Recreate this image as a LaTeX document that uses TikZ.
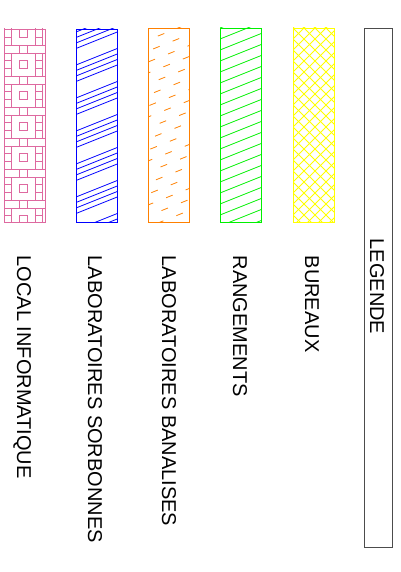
\documentclass[tikz,border=0pt]{standalone}
\usepackage{fontspec}
\setmainfont{Liberation Sans}
\definecolor{cpink}{RGB}{222,105,160}
\definecolor{cblue}{RGB}{0,0,255}
\definecolor{corange}{RGB}{255,128,0}
\definecolor{cgreen}{RGB}{0,240,0}
\definecolor{cyellow}{RGB}{255,255,0}
\begin{document}
\begin{tikzpicture}[x=1pt,y=-1pt,
  lbl/.style={rotate=-90, anchor=base west, inner sep=0pt, font=\fontsize{20}{24}\selectfont},
  pat/.style={line width=0.8pt},
  frame/.style={line width=0.9pt}]
\useasboundingbox (0,0) rectangle (400,572);

% LOCAL INFORMATIQUE pattern
\begin{scope}
\clip (4,29) rectangle (45,222);
\foreach \j in {-1,...,6}{
  \pgfmathsetmacro\yo{45+31*\j}
  \draw[cpink,pat] (0,\yo) -- (50,\yo) (0,\yo+8) -- (50,\yo+8);
  \foreach \c in {-7.5,23.5,54.5}{
    \draw[cpink,pat] (\c-4,\yo) -- (\c-4,\yo+8) (\c+4,\yo) -- (\c+4,\yo+8)
      (\c-12,\yo+8) -- (\c-12,\yo+31) (\c+12,\yo+8) -- (\c+12,\yo+31)
      (\c-4,\yo+15.5) rectangle (\c+4,\yo+23.5)
      (\c+12,\yo+15.5) -- (\c+19,\yo+15.5) (\c+12,\yo+23.5) -- (\c+19,\yo+23.5);
  }
}
\end{scope}
\draw[cpink,frame] (4,29) rectangle (45,222);

% LABORATOIRES SORBONNES pattern
\begin{scope}
\clip (76,29) rectangle (117,222);
\foreach \k in {-1,...,6}{
  \foreach \o in {0,5.5,11,16.5}{
    \draw[cblue,pat] (70,{32+33*\k+\o+2.4}) -- ++(60,-24);
  }
}
\end{scope}
\draw[cblue,frame] (76,29) rectangle (117,222);

% LABORATOIRES BANALISES pattern
\begin{scope}
\clip (148,28) rectangle (189,222);
\foreach \k in {-2,...,18}{
  \pgfmathsetmacro\ph{mod(5*(\k+5),21)}
  \draw[corange,pat,dash pattern=on 7pt off 14pt,dash phase=\ph pt] (142,{40+11*\k+2.4}) -- ++(60,-24);
}
\end{scope}
\draw[corange,frame] (148,28) rectangle (189,222);

% RANGEMENTS pattern
\begin{scope}
\clip (220,28) rectangle (261,222);
\foreach \k in {-2,...,18}{
  \draw[cgreen,pat] (214,{39+11*\k+2.4}) -- ++(60,-24);
}
\end{scope}
\draw[cgreen,frame] (220,28) rectangle (261,222);

% BUREAUX pattern
\begin{scope}
\clip (293,28) rectangle (334,222);
\foreach \k in {-6,...,22}{
  \draw[cyellow,pat] (293,{28+11*\k}) -- ++(60,60) (293,{28+11*\k}) -- ++(60,-60);
}
\end{scope}
\draw[cyellow,frame] (293,28) rectangle (334,222);

% LEGENDE box
\draw[gray!60!black,line width=0.8pt] (364,28) rectangle (392,547);

\node[lbl] (leg) at (370,238.5) {LEGENDE};
\node[lbl] (bur) at (305,255.5) {BUREAUX};
\node[lbl] (ran) at (233,255.5) {RANGEMENTS};
\node[lbl] (ban) at (162,255.5) {LABORATOIRES BANALISES};
\node[lbl] (sor) at (88,255.5) {LABORATOIRES SORBONNES};
\node[lbl] (loc) at (17,255.5) {LOCAL INFORMATIQUE};
\end{tikzpicture}
\end{document}
